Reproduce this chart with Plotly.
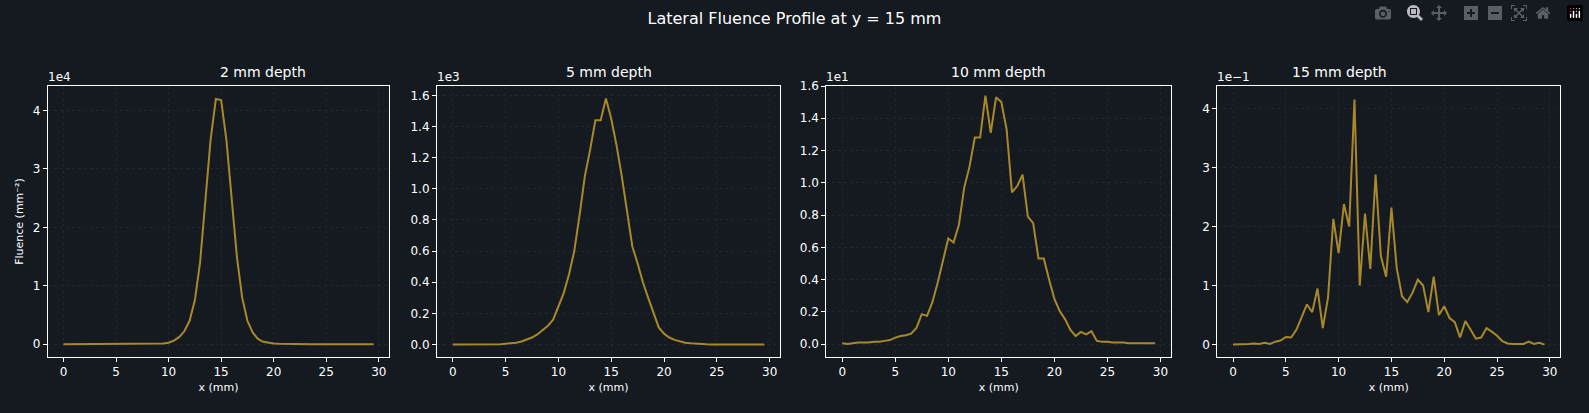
import plotly.graph_objects as go
from plotly.subplots import make_subplots

x_mm = [i * 0.5 for i in range(60)]

# 2 mm depth (x1e4)
fluence_2mm = [0, 0, 0, 0, 0, 0, 0, 0, 0, 0,
               0, 0, 0, 0, 0, 0.001, 0.002, 0.003, 0.005, 0.012,
               0.025, 0.06, 0.12, 0.22, 0.4, 0.75, 1.4, 2.5, 3.5, 4.2,
               4.18, 3.5, 2.5, 1.5, 0.8, 0.4, 0.2, 0.09, 0.04, 0.02,
               0.01, 0.005, 0.002, 0.001, 0, 0, 0, 0, 0, 0,
               0, 0, 0, 0, 0, 0, 0, 0, 0, 0]
# 5 mm depth (x1e3)
fluence_5mm = [0, 0, 0, 0, 0, 0, 0, 0, 0.001, 0.002,
               0.005, 0.008, 0.012, 0.02, 0.03, 0.045, 0.065, 0.09, 0.12, 0.16,
               0.25, 0.33, 0.45, 0.6, 0.83, 1.08, 1.25, 1.44, 1.44, 1.58,
               1.45, 1.28, 1.08, 0.86, 0.63, 0.52, 0.4, 0.3, 0.2, 0.11,
               0.07, 0.045, 0.03, 0.02, 0.012, 0.008, 0.005, 0.003, 0.002, 0.001,
               0.001, 0, 0, 0, 0, 0, 0, 0, 0, 0]
# 10 mm depth (x1e1)
fluence_10mm = [0.005, 0, 0.005, 0.01, 0.01, 0.01, 0.015, 0.015, 0.02, 0.025,
                0.04, 0.05, 0.055, 0.065, 0.1, 0.185, 0.175, 0.26, 0.38, 0.52,
                0.655, 0.63, 0.74, 0.97, 1.1, 1.28, 1.28, 1.54, 1.31, 1.53,
                1.5, 1.33, 0.94, 0.98, 1.05, 0.79, 0.75, 0.53, 0.53, 0.4,
                0.28, 0.205, 0.155, 0.09, 0.05, 0.075, 0.06, 0.08, 0.02, 0.015,
                0.015, 0.01, 0.01, 0.01, 0.005, 0.005, 0.005, 0.005, 0.005, 0.005]
# 15 mm depth (x1e-1)
fluence_15mm = [0, 0, 0.005, 0.01, 0.02, 0.01, 0.03, 0.01, 0.05, 0.07,
                0.13, 0.12, 0.25, 0.45, 0.68, 0.55, 0.95, 0.28, 0.8, 2.13,
                1.55, 2.38, 2.0, 4.15, 1.0, 2.22, 1.28, 2.88, 1.5, 1.15,
                2.32, 1.3, 0.82, 0.72, 0.88, 1.1, 1.0, 0.55, 1.15, 0.5,
                0.65, 0.45, 0.38, 0.12, 0.4, 0.25, 0.1, 0.12, 0.28, 0.22,
                0.15, 0.06, 0.02, 0.01, 0.01, 0.01, 0.05, 0.01, 0.03, 0.0]

titles = ["2 mm depth", "5 mm depth", "10 mm depth", "15 mm depth"]
exponents = ["1e4", "1e3", "1e1", "1e\u22121"]
series = [fluence_2mm, fluence_5mm, fluence_10mm, fluence_15mm]
y_ranges = [[-0.22, 4.42], [-0.08, 1.66], [-0.08, 1.6], [-0.21, 4.38]]
y_ticks = [[0, 1, 2, 3, 4], [0, 0.2, 0.4, 0.6, 0.8, 1.0, 1.2, 1.4, 1.6],
           [0, 0.2, 0.4, 0.6, 0.8, 1.0, 1.2, 1.4, 1.6], [0, 1, 2, 3, 4]]
y_fmt = ["d", ".1f", ".1f", "d"]

bg = "#151a21"
fig = make_subplots(rows=1, cols=4, horizontal_spacing=0.03)
domains = [[0.030, 0.245], [0.275, 0.491], [0.520, 0.737], [0.766, 0.982]]

for i in range(4):
    fig.add_trace(go.Scatter(x=x_mm, y=series[i], mode="lines",
                             line=dict(color="#a8892a", width=2), showlegend=False),
                  row=1, col=i + 1)
    ax = "" if i == 0 else str(i + 1)
    fig.layout["xaxis" + ax].update(domain=domains[i], range=[-1.5, 31], tickvals=[0, 5, 10, 15, 20, 25, 30],
                                    title=dict(text="x (mm)", font=dict(size=11), standoff=4))
    fig.layout["yaxis" + ax].update(range=y_ranges[i], tickvals=y_ticks[i], tickformat=y_fmt[i])
    fig.add_annotation(text=titles[i], x=sum(domains[i]) / 2, y=1.0, xref="paper", yref="paper",
                       yanchor="bottom", showarrow=False, font=dict(size=14), yshift=4)
    fig.add_annotation(text=exponents[i], x=domains[i][0], y=1.0, xref="paper", yref="paper",
                       xanchor="left", yanchor="bottom", showarrow=False, font=dict(size=12), xshift=-2)

fig.update_xaxes(showline=True, mirror=True, linecolor="white", linewidth=1, ticks="outside",
                 tickcolor="white", ticklen=4, zeroline=False, showgrid=True,
                 gridcolor="rgba(255,255,255,0.05)", griddash="dot", tickfont=dict(size=12))
fig.update_yaxes(showline=True, mirror=True, linecolor="white", linewidth=1, ticks="outside",
                 tickcolor="white", ticklen=4, zeroline=False, showgrid=True,
                 gridcolor="rgba(255,255,255,0.05)", griddash="dot", tickfont=dict(size=12))
fig.update_yaxes(title=dict(text="Fluence (mm\u207b\u00b2)", font=dict(size=11), standoff=6), row=1, col=1)

fig.update_layout(
    width=1589, height=413,
    title=dict(text="Lateral Fluence Profile at y = 15 mm", x=0.5, y=0.97, xanchor="center", font=dict(size=16)),
    paper_bgcolor=bg, plot_bgcolor=bg,
    font=dict(family="DejaVu Sans", color="white"),
    margin=dict(l=0, r=0, t=86, b=56),
)

fig.write_html("out.html", post_script="document.body.style.margin='0';document.body.style.background='#151a21';")
